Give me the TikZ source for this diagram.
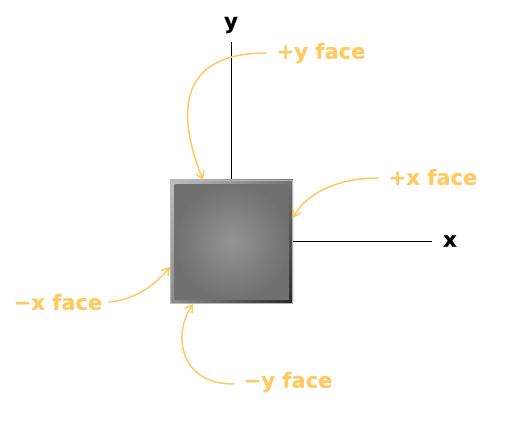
\documentclass[tikz,border=0pt]{standalone}
\usepackage{fontspec}
\setmainfont{DejaVu Sans}[BoldFeatures={FakeBold=0.4}]
\usetikzlibrary{arrows.meta,shadings}
\definecolor{facecol}{HTML}{FFCA62}
\tikzset{
  facelabel/.style={text=facecol, font=\bfseries\fontsize{21}{23}\selectfont, inner sep=0pt},
  axislabel/.style={text=black, font=\bfseries\fontsize{21}{23}\selectfont, inner sep=0pt},
  axisline/.style={draw=black, line width=1.4pt},
  facearrow/.style={draw=facecol, line width=1.5pt, -{Straight Barb[length=7pt,width=9pt,line width=1.5pt]}},
}
\begin{document}
\begin{tikzpicture}[x=1pt,y=-1pt]
\useasboundingbox (0,0) rectangle (520,430);
% axes
\coordinate (ytop) at (231.7,42);
\coordinate (xend) at (431.5,241.7);
\coordinate (yorig) at (231.7,182);
\coordinate (xorig) at (291,241.7);
\draw[axisline] (yorig) -- (ytop);
\draw[axisline] (xorig) -- (xend);
% square with bevel
\shade[upper left=black!25, upper right=black!55, lower left=black!45, lower right=black!85]
  (170,180) rectangle (293,304);
\draw[black!28, line width=0.9pt] (170.4,180.4) rectangle (292.6,303.6);
\shade[inner color=black!42, outer color=black!56] (174.5,184.5) rectangle (289,300);
\node[inner sep=0pt, minimum width=123pt, minimum height=124pt] (sq) at (231.5,242) {};
% labels
\node[axislabel] (ylab) at (231,25) {y};
\node[axislabel] (xlab) at (450,241) {x};
\node[facelabel] (py) at (321,53) {+y face};
\node[facelabel] (px) at (433,177) {+x face};
\node[facelabel] (mx) at (58,302) {−x face};
\node[facelabel] (my) at (288,382) {−y face};
% arrows
\coordinate (pytip) at (203,180);
\coordinate (pxtip) at (293,218);
\coordinate (mxtip) at (170,267);
\coordinate (mytip) at (193,304);
\draw[facearrow] (py.west) ++(-10,0) .. controls (180,53) and (175,110) .. (pytip);
\draw[facearrow] (px.west) ++(-10,1) .. controls (335,178) and (305,195) .. (pxtip);
\draw[facearrow] (mx.east) ++(6,0) .. controls (135,300) and (155,285) .. (mxtip);
\draw[facearrow] (my.west) ++(-9,2) .. controls (180,385) and (172,335) .. (mytip);
\end{tikzpicture}
\end{document}
